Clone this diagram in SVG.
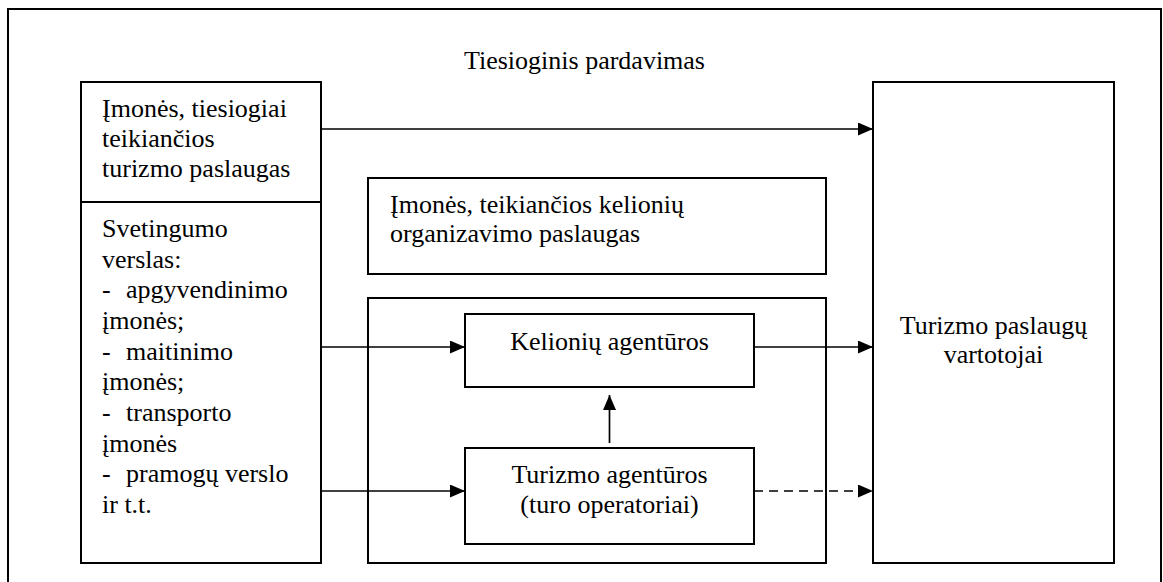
<svg xmlns="http://www.w3.org/2000/svg" width="1163" height="582" viewBox="0 0 1163 582">
  <style>
    .box { fill: #fff; stroke: #000; stroke-width: 2; }
    .frame { fill: none; stroke: #000; stroke-width: 2; }
    text { font-family: 'Liberation Serif', 'DejaVu Serif', 'Times New Roman', serif; font-size: 26px; fill: #000; }
    .mid { text-anchor: middle; }
    .link { fill: none; stroke: #000; stroke-width: 1.7; }
    .dashed { stroke-dasharray: 9 6; }
  </style>
  <defs>
    <marker id="arrow" markerUnits="userSpaceOnUse" markerWidth="16" markerHeight="14" refX="15" refY="6.5" orient="auto">
      <path d="M0,0 L15,6.5 L0,13 Z" fill="#000"/>
    </marker>
  </defs>

  <rect width="1163" height="582" fill="#fff"/>

  <!-- outer frame, open at the bottom edge of the page -->
  <rect class="frame" x="8" y="9" width="1153" height="600"/>

  <text class="mid" x="584.5" y="69" font-family="Liberation Serif, serif">Tiesioginis pardavimas</text>

  <!-- left: service providers -->
  <g id="providers" font-family="Liberation Serif, serif">
    <rect class="box" x="81" y="82" width="240" height="481"/>
    <line x1="81" y1="202" x2="321" y2="202" stroke="#000" stroke-width="2"/>
    <text>
      <tspan x="102" y="117">Įmonės, tiesiogiai</tspan>
      <tspan x="102" y="147">teikiančios</tspan>
      <tspan x="102" y="177">turizmo paslaugas</tspan>
    </text>
    <text>
      <tspan x="102" y="237">Svetingumo</tspan>
      <tspan x="102" y="267.5">verslas:</tspan>
      <tspan x="102" y="298">-</tspan><tspan x="126" y="298">apgyvendinimo</tspan>
      <tspan x="102" y="328.5">įmonės;</tspan>
      <tspan x="102" y="359.5">-</tspan><tspan x="126" y="359.5">maitinimo</tspan>
      <tspan x="102" y="390">įmonės;</tspan>
      <tspan x="102" y="421">-</tspan><tspan x="126" y="421">transporto</tspan>
      <tspan x="102" y="451.5">įmonės</tspan>
      <tspan x="102" y="482">-</tspan><tspan x="126" y="482">pramogų verslo</tspan>
      <tspan x="102" y="513">ir t.t.</tspan>
    </text>
  </g>

  <!-- middle: travel organisers -->
  <g id="organisers">
    <rect class="box" x="368" y="178" width="458" height="96"/>
    <text>
      <tspan x="390" y="213">Įmonės, teikiančios kelionių</tspan>
      <tspan x="390" y="242">organizavimo paslaugas</tspan>
    </text>
  </g>

  <g id="agencies-group">
    <rect class="box" x="368" y="298" width="458" height="265"/>
  </g>

  <g id="travel-agencies">
    <rect class="box" x="465" y="314" width="289" height="73"/>
    <text class="mid" x="609.5" y="350">Kelionių agentūros</text>
  </g>

  <g id="tour-operators">
    <rect class="box" x="465" y="448" width="289" height="96"/>
    <text class="mid" x="609.5" y="483">Turizmo agentūros</text>
    <text class="mid" x="609.5" y="513">(turo operatoriai)</text>
  </g>

  <!-- right: consumers -->
  <g id="consumers">
    <rect class="box" x="873" y="82" width="241" height="481"/>
    <text class="mid" x="993.5" y="334">Turizmo paslaugų</text>
    <text class="mid" x="993.5" y="363">vartotojai</text>
  </g>

  <g id="connectors">
    <line class="link" x1="321" y1="129" x2="873" y2="129" marker-end="url(#arrow)"/>
    <line class="link" x1="321" y1="347" x2="465" y2="347" marker-end="url(#arrow)"/>
    <line class="link" x1="754" y1="347" x2="873" y2="347" marker-end="url(#arrow)"/>
    <line class="link" x1="321" y1="491" x2="465" y2="491" marker-end="url(#arrow)"/>
    <line class="link dashed" x1="754" y1="491" x2="873" y2="491" marker-end="url(#arrow)"/>
    <line class="link" x1="609.5" y1="443" x2="609.5" y2="395" marker-end="url(#arrow)"/>
  </g>
</svg>
